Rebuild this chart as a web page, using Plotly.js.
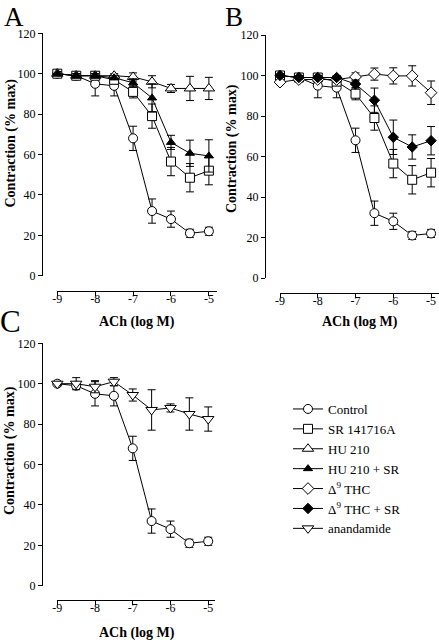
<!DOCTYPE html>
<html>
<head>
<meta charset="utf-8">
<script src="https://cdn.plot.ly/plotly-3.0.1.min.js"></script>
<style>
html,body{margin:0;padding:0;background:#fff;}
#chart{width:439px;height:640px;}
</style>
</head>
<body>
<div id="chart"></div>
<script>
// ---- data ----
const logACh = [-9, -8.5, -8, -7.5, -7, -6.5, -6, -5.5, -5];
const xTickVals = [-9, -8, -7, -6, -5];
const xTickText = ['-9', '-8', '-7', '-6', '-5'];
const yTickVals = [0, 20, 40, 60, 80, 100, 120];
const yTickText = ['0', '20', '40', '60', '80', '100', '120'];

const control = [100, 99, 95, 94, 68, 32, 28, 21, 22];
const controlErr = [1, 1.5, 6, 5, 6, 6, 4, 2, 2];

const sr = [100, 99, 99, 97, 91, 79, 56.5, 48.5, 52];
const srErr = [1, 1, 1, 2, 3, 6, 7, 7, 7];

const hu = [100, 99, 99, 99, 98.4, 96, 92.7, 92.7, 92.7];
const huErr = [1, 1, 1, 1, 2, 3, 2, 6, 5.5];

const huSr = [100, 99, 99, 98, 95.5, 88, 66, 60.6, 59.3];
const huSrErr = [1, 1, 1, 1, 2, 7, 3.5, 6.5, 8];

const thc = [96.7, 98, 98, 98, 99.3, 100.7, 99.8, 99.8, 91.5];
const thcErr = [1, 1, 1, 1.5, 2, 3, 4, 5, 5.8];

const thcSr = [100, 99, 99, 99, 95.8, 87.8, 69.5, 64.7, 67.8];
const thcSrErr = [1, 1, 1, 1, 2, 6, 8.5, 6, 7];

const anand = [100, 100, 98.5, 101, 94.4, 87, 88, 85, 82.5];
const anandErr = [1, 3, 3, 2, 3, 10, 2, 8, 6];

const names = ['Control', 'SR 141716A', 'HU 210', 'HU 210 + SR',
  '\u0394<sup>9</sup> THC', '\u0394<sup>9</sup> THC + SR', 'anandamide'];

// ---- styles ----
const FONT = 'Liberation Serif, Times New Roman, serif';
const styles = {
  'Control': {symbol: 'circle', size: 9, fill: 'white'},
  'SR 141716A': {symbol: 'square', size: 9, fill: 'white'},
  'HU 210': {symbol: 'triangle-up', size: 10, fill: 'white'},
  'HU 210 + SR': {symbol: 'triangle-up', size: 8, fill: 'black'},
  'thc': {symbol: 'diamond', size: 9, fill: 'white'},
  'thcsr': {symbol: 'diamond', size: 8, fill: 'black'},
  'anandamide': {symbol: 'triangle-down', size: 10, fill: 'white'}
};

const shown = {};
function tr(nameIdx, key, y, err, ax) {
  const st = styles[key];
  const nm = names[nameIdx];
  const show = !shown[nm];
  shown[nm] = true;
  return {
    type: 'scatter', mode: 'lines+markers',
    x: logACh, y: y, name: nm, legendgroup: nm, showlegend: show,
    xaxis: 'x' + (ax === 1 ? '' : ax), yaxis: 'y' + (ax === 1 ? '' : ax),
    line: {color: 'black', width: 1},
    marker: {symbol: st.symbol, size: st.size, color: st.fill, line: {color: 'black', width: 1}},
    error_y: {type: 'data', array: err, visible: true, color: 'black', thickness: 1, width: 4},
    cliponaxis: false
  };
}

const data = [
  tr(0, 'Control', control, controlErr, 1),
  tr(1, 'SR 141716A', sr, srErr, 1),
  tr(2, 'HU 210', hu, huErr, 1),
  tr(3, 'HU 210 + SR', huSr, huSrErr, 1),
  tr(0, 'Control', control, controlErr, 2),
  tr(1, 'SR 141716A', sr, srErr, 2),
  tr(4, 'thc', thc, thcErr, 2),
  tr(5, 'thcsr', thcSr, thcSrErr, 2),
  tr(0, 'Control', control, controlErr, 3),
  tr(6, 'anandamide', anand, anandErr, 3)
];

const W = 439, H = 640;
function xax(x0, x1, r1, ypix) {
  return {
    domain: [x0 / W, x1 / W], range: [-9, r1], anchor: 'free', position: 1 - ypix / H,
    showline: true, linecolor: 'black', linewidth: 1, ticks: 'outside', ticklen: 4,
    tickcolor: 'black', tickwidth: 1, tickvals: xTickVals, ticktext: xTickText,
    ticklabelstandoff: -7,
    showgrid: false, zeroline: false, tickfont: {family: FONT, size: 12, color: 'black'}, fixedrange: true
  };
}
function yax(ytop, ybot, xpix) {
  return {
    domain: [1 - ybot / H, 1 - ytop / H], range: [0, 120], anchor: 'free', position: xpix / W,
    showline: true, linecolor: 'black', linewidth: 1, ticks: 'outside', ticklen: 4,
    tickcolor: 'black', tickwidth: 1, tickvals: yTickVals, ticktext: yTickText,
    showgrid: false, zeroline: false, tickfont: {family: FONT, size: 12, color: 'black'}, fixedrange: true
  };
}

function ann(text, xp, yp, size, bold, angle, yanchor) {
  return {
    text: bold ? '<b>' + text + '</b>' : text, xref: 'paper', yref: 'paper',
    x: xp / W, y: 1 - yp / H, xanchor: 'center', yanchor: yanchor || 'middle', showarrow: false,
    textangle: angle || 0, font: {family: FONT, size: size, color: 'black'}
  };
}

const layout = {
  width: W, height: H, margin: {l: 0, r: 0, t: 0, b: 0},
  paper_bgcolor: 'white', plot_bgcolor: 'rgba(0,0,0,0)',
  font: {family: FONT, color: 'black'},
  xaxis: xax(57.3, 217, -4.786, 290.7),
  yaxis: yax(33.3, 275.7, 42),
  xaxis2: xax(280, 439, -4.79, 293),
  yaxis2: yax(35, 278, 265),
  xaxis3: xax(57.3, 215, -4.82, 600),
  yaxis3: yax(343.3, 585.7, 42),
  showlegend: true,
  legend: {
    x: 288 / W, y: 1 - 394 / H, xanchor: 'left', yanchor: 'top',
    font: {family: FONT, size: 13, color: 'black'}, bgcolor: 'rgba(0,0,0,0)',
    borderwidth: 0, tracegroupgap: 0, traceorder: 'normal'
  },
  annotations: [
    ann('A', 13.5, 0, 27, false, 0, 'top'),
    ann('B', 234, 0, 27, false, 0, 'top'),
    ann('C', 10, 321, 31, false),
    ann('Contraction (% max)', 10, 143.5, 14, true, -90),
    ann('Contraction (% max)', 232, 149, 14, true, -90),
    ann('Contraction (% max)', 10, 451, 14, true, -90),
    ann('ACh (log M)', 137, 322, 14, true),
    ann('ACh (log M)', 360, 322, 14, true),
    ann('ACh (log M)', 137, 633, 14, true)
  ]
};

Plotly.newPlot('chart', data, layout, {displayModeBar: false, staticPlot: true});
</script>
</body>
</html>
